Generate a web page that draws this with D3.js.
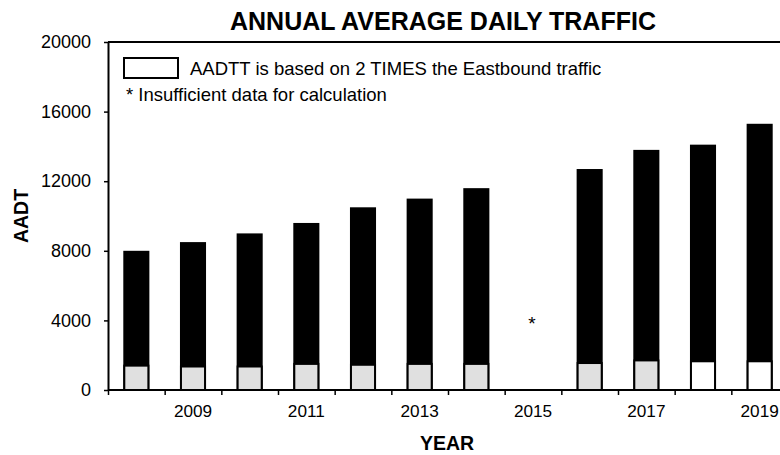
<!DOCTYPE html>
<html>
<head>
<meta charset="utf-8">
<script src="https://cdn.jsdelivr.net/npm/d3@7"></script>
<style>
  html, body { margin: 0; padding: 0; background: #fff; }
  svg { display: block; font-family: "Liberation Sans", Arial, sans-serif; }
</style>
</head>
<body>
<svg id="chart" width="780" height="455"></svg>
<script>
// ---- data ----
const years = ["2008","2009","2010","2011","2012","2013","2014","2015","2016","2017","2018","2019"];
const aadt  = [8000, 8500, 9000, 9600, 10500, 11000, 11600, null, 12700, 13800, 14100, 15300];
const aadtt = [1400, 1350, 1350, 1500, 1450, 1500, 1500, null, 1550, 1700, 1650, 1650];
// AADTT based on 2 TIMES the Eastbound traffic (white bars)
const doubled = [false, false, false, false, false, false, false, false, false, false, true, true];
const yTicks = [0, 4000, 8000, 12000, 16000, 20000];
const xLabelYears = ["2009","2011","2013","2015","2017","2019"];
const insufficientYears = ["2015"];
const titleText = "ANNUAL AVERAGE DAILY TRAFFIC";
const legendLines = ["AADTT is based on 2 TIMES the Eastbound traffic", "* Insufficient data for calculation"];

// ---- layout ----
const svg = d3.select("#chart");
const mLeft = 108, mRight = 788, mTop = 42, mBottom = 390;

const x = d3.scaleBand().domain(years).range([mLeft, mRight]).paddingInner(0.54).paddingOuter(0.27);
const xLin = d3.scaleLinear().domain([2007.5, 2019.5]).range([mLeft, mRight]);
const y = d3.scaleLinear().domain([0, 20000]).range([mBottom, mTop]);

// frame top line
svg.append("line")
  .attr("x1", mLeft).attr("x2", 780).attr("y1", y(20000)).attr("y2", y(20000))
  .attr("stroke", "#000").attr("stroke-width", 2);

// AADT bars (black)
const rows = years.map((yr, i) => ({yr, total: aadt[i], truck: aadtt[i], dbl: doubled[i]}))
  .filter(d => d.total != null);

svg.append("g").selectAll("rect").data(rows).join("rect")
  .attr("x", d => x(d.yr)).attr("width", x.bandwidth())
  .attr("y", d => y(d.total)).attr("height", d => y(0) - y(d.total))
  .attr("fill", "#000");

// AADTT bars
svg.append("g").selectAll("rect").data(rows).join("rect")
  .attr("x", d => x(d.yr) + 1).attr("width", x.bandwidth() - 2)
  .attr("y", d => y(d.truck)).attr("height", d => y(0) - y(d.truck))
  .attr("fill", d => d.dbl ? "#ffffff" : "#e0e0e0")
  .attr("stroke", "#000").attr("stroke-width", 2);

// insufficient data marker
svg.append("g").selectAll("text").data(insufficientYears).join("text")
  .attr("x", d => x(d) + x.bandwidth() / 2 - 1).attr("y", y(4000) + 10)
  .attr("text-anchor", "middle").attr("font-size", 19).text("*");

// y axis
const yAxis = svg.append("g").attr("transform", `translate(${mLeft},0)`)
  .call(d3.axisLeft(y).tickValues(yTicks).tickFormat(d3.format("d")).tickSize(4).tickSizeOuter(0).tickPadding(13));
yAxis.selectAll("text").attr("font-size", 18).attr("font-family", "Liberation Sans, Arial, sans-serif").attr("fill", "#000");
yAxis.selectAll("line").attr("stroke-width", 1.5);
yAxis.select(".domain").attr("stroke-width", 2);

// x axis: tick marks at category boundaries
const xTickVals = d3.range(2007.5, 2020, 1);
const xAxis = svg.append("g").attr("transform", `translate(0,${mBottom})`)
  .call(d3.axisBottom(xLin).tickValues(xTickVals).tickSize(5).tickSizeOuter(0).tickFormat(""));
xAxis.selectAll("line").attr("stroke-width", 1.5);
xAxis.select(".domain").attr("stroke-width", 2).attr("d", `M${mLeft},0H780`);

// x labels at category centres
const xLab = svg.append("g").attr("transform", `translate(0,${mBottom})`)
  .call(d3.axisBottom(x).tickValues(xLabelYears).tickSize(0).tickPadding(15));
xLab.select(".domain").remove();
xLab.selectAll("text").attr("font-size", 17.2).attr("font-family", "Liberation Sans, Arial, sans-serif").attr("fill", "#000");

// title
svg.append("text").attr("x", 443).attr("y", 30).attr("text-anchor", "middle")
  .attr("font-size", 25).attr("font-weight", "bold").text(titleText);

// axis titles
svg.append("text").attr("transform", "translate(28,216) rotate(-90)").attr("text-anchor", "middle")
  .attr("font-size", 19.5).attr("font-weight", "bold").text("AADT");
svg.append("text").attr("x", 447).attr("y", 450).attr("text-anchor", "middle")
  .attr("font-size", 19.5).attr("font-weight", "bold").text("YEAR");

// legend
svg.append("rect").attr("x", 124).attr("y", 58).attr("width", 54).attr("height", 20)
  .attr("fill", "#fff").attr("stroke", "#000").attr("stroke-width", 2);
svg.append("text").attr("x", 190).attr("y", 75).attr("font-size", 18.5).text(legendLines[0]);
svg.append("text").attr("x", 126).attr("y", 101).attr("font-size", 18.5).text(legendLines[1]);
</script>
</body>
</html>
